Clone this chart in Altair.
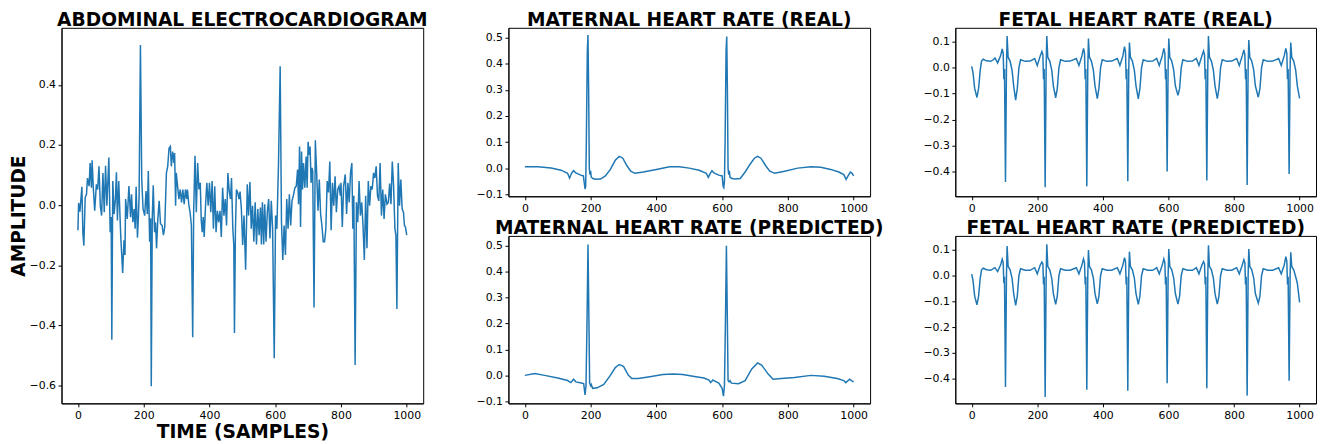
import altair as alt
import pandas as pd

BLUE = "#1f77b4"

# ---------------- Abdominal ECG (sample index, amplitude) ----------------
abd_t = [0, 2, 6, 12, 15, 18, 22, 26, 29, 34, 37, 41, 43, 47, 51, 56, 60, 64, 68, 72,
         76, 80, 84, 88, 94, 98, 101, 103, 106, 110, 114, 117, 120, 124, 130, 136, 140, 143, 145, 150,
         155, 160, 163, 167, 171, 174, 177, 181, 184, 186, 190, 194, 198, 203, 207, 211, 214, 218, 221, 223,
         226, 229, 233, 236, 239, 243, 247, 251, 256, 260, 264, 269, 273, 277, 281, 284, 288, 292, 294, 297,
         299, 303, 307, 311, 315, 319, 323, 327, 331, 333, 337, 341, 345, 349, 352, 356, 360, 364, 368, 372,
         375, 378, 381, 384, 388, 392, 396, 400, 404, 408, 412, 416, 420, 424, 428, 432, 436, 440, 444, 448,
         452, 456, 460, 464, 467, 471, 474, 476, 479, 482, 486, 490, 493, 497, 501, 505, 510, 515, 519, 523,
         527, 531, 535, 539, 543, 547, 551, 555, 558, 561, 565, 568, 572, 576, 580, 584, 588, 592, 597, 601,
         605, 610, 615, 619, 623, 627, 631, 635, 639, 643, 647, 651, 655, 660, 664, 668, 671, 674, 677, 680,
         683, 686, 690, 694, 697, 700, 703, 706, 709, 712, 714, 718, 722, 726, 730, 734, 738, 742, 746, 750,
         754, 758, 762, 766, 770, 774, 778, 782, 786, 790, 794, 798, 800, 804, 808, 813, 817, 821, 825, 829,
         833, 836, 839, 843, 847, 851, 855, 859, 863, 867, 871, 875, 879, 883, 887, 891, 895, 899, 903, 907,
         911, 915, 919, 923, 927, 931, 935, 940, 944, 948, 952, 956, 960, 964, 967, 970, 974, 978, 982, 986,
         990, 993, 996, 1000]
abd_v = [-0.084, 0.007, -0.022, 0.061, -0.092, -0.135, 0.025, 0.036, 0.09, 0.063, 0.14, 0.058, 0.149, 0.052, -0.019, 0.069, 0.052, 0.129, -0.002, -0.035,
         0.107, -0.024, 0.131, -0.002, 0.158, -0.09, -0.04, -0.448, 0.08, -0.03, 0.02, 0.109, -0.051, 0.08, -0.1, -0.226, -0.117, -0.166, 0.02, -0.046,
         0.063, -0.04, 0.036, -0.057, -0.013, -0.079, 0.061, -0.109, -0.035, 0.03, 0.533, 0.085, -0.013, -0.035, 0.047, -0.03, 0.113, -0.122, -0.044, -0.603,
         -0.046, 0.066, -0.09, -0.057, -0.144, -0.046, 0.014, -0.062, -0.068, -0.1, -0.073, 0.107, 0.129, 0.189, 0.195, 0.129, 0.178, 0.14, 0.173, -0.002,
         0.107, 0.063, 0.02, 0.052, 0.009, 0.052, 0.003, 0.052, 0.02, 0.052, 0.003, -0.024, -0.068, -0.44, -0.019, 0.164, -0.024, 0.14, 0.052, 0.074,
         -0.051, -0.09, -0.04, -0.106, -0.002, 0.074, -0.002, 0.074, -0.024, 0.08, -0.079, 0.063, -0.09, -0.019, -0.057, -0.019, -0.106, 0.058, -0.035, 0.02,
         -0.068, 0.107, 0.047, 0.02, 0.09, -0.079, -0.133, -0.426, -0.079, 0.052, 0.041, 0.02, 0.045, -0.013, -0.133, -0.035, -0.215, 0.069, -0.035, 0.077,
         -0.079, -0.002, -0.122, 0.009, -0.131, -0.013, -0.1, -0.008, -0.131, 0.009, -0.131, 0.003, -0.122, -0.022, 0.02, -0.111, 0.014, -0.079, -0.51, -0.035,
         -0.079, 0.14, 0.462, -0.057, -0.183, -0.068, -0.166, 0.02, -0.079, 0.036, -0.068, 0.014, 0.031, 0.058, 0.063, 0.118, 0.003, 0.195, -0.073, 0.178,
         0.052, 0.14, 0.058, 0.162, 0.058, 0.211, 0.167, 0.195, 0.074, 0.124, 0.113, -0.341, 0.216, 0.107, -0.019, 0.085, -0.03, -0.068, -0.122, -0.122,
         -0.079, 0.08, 0.042, 0.145, -0.084, 0.074, -0.002, 0.096, -0.024, 0.052, 0.063, 0.031, 0.074, -0.073, 0.063, 0.102, -0.03, 0.074, 0.009, 0.107,
         0.14, -0.079, 0.031, -0.532, 0.009, -0.057, 0.08, -0.035, 0.009, -0.068, -0.183, 0.031, -0.144, 0.08, -0.002, 0.063, 0.052, 0.107, 0.09, 0.129,
         0.031, 0.014, 0.14, -0.035, 0.052, -0.046, 0.036, 0.003, 0.009, 0.072, 0.003, 0.145, 0.063, -0.079, -0.1, -0.346, 0.14, -0.002, 0.085, -0.013,
         -0.024, -0.068, -0.073, -0.1]

# ---------------- Maternal ECG, real ----------------
mat_real_t = [0, 40, 80, 110, 130, 136, 142, 148, 155, 170, 178, 181, 183, 185, 187, 190, 192, 194, 196, 198,
              200, 202, 207, 215, 230, 245, 260, 275, 287, 298, 310, 322, 335, 360, 400, 440, 470, 500, 530, 552,
              558, 564, 569, 575, 590, 600, 603, 605, 607, 609, 612, 614, 616, 618, 620, 622, 624, 630, 640, 655,
              670, 685, 698, 708, 718, 732, 745, 760, 790, 830, 870, 900, 930, 955, 970, 977, 983, 990, 995, 1000]
mat_real_v = [0.005, 0.005, 0.0, -0.008, -0.02, -0.038, -0.02, -0.01, -0.018, -0.027, -0.03, -0.06, -0.08, -0.07, 0.1, 0.45, 0.51, 0.3, 0.0, -0.025,
              -0.01, -0.035, -0.04, -0.043, -0.042, -0.03, -0.005, 0.03, 0.045, 0.038, 0.01, -0.012, -0.02, -0.015, -0.005, 0.005, 0.005, 0.0, -0.008, -0.02,
              -0.035, -0.02, -0.01, -0.018, -0.027, -0.03, -0.07, -0.075, -0.05, 0.1, 0.45, 0.505, 0.3, 0.0, -0.025, -0.01, -0.035, -0.04, -0.042, -0.04,
              -0.015, 0.015, 0.038, 0.045, 0.038, 0.01, -0.012, -0.02, -0.012, 0.0, 0.005, 0.003, -0.005, -0.015, -0.025, -0.043, -0.03, -0.015, -0.02, -0.03]

# ---------------- Maternal ECG, predicted ----------------
mat_pred_t = [0, 30, 60, 100, 130, 140, 148, 155, 175, 179, 183, 186, 189, 192, 195, 197, 200, 202, 206, 220,
              240, 260, 275, 287, 300, 315, 325, 345, 380, 420, 450, 480, 520, 545, 560, 565, 572, 578, 590, 600,
              604, 607, 610, 613, 616, 618, 621, 624, 628, 650, 670, 690, 708, 720, 740, 755, 780, 820, 870, 910,
              950, 970, 976, 988, 993, 1000]
mat_pred_v = [0.0, 0.007, 0.0, -0.01, -0.02, -0.028, -0.015, -0.025, -0.03, -0.032, -0.075, -0.04, 0.2, 0.505, 0.2, -0.03, -0.04, -0.035, -0.05, -0.048,
              -0.035, 0.0, 0.03, 0.042, 0.035, 0.0, -0.012, -0.012, -0.005, 0.003, 0.005, 0.003, -0.005, -0.01, -0.018, -0.028, -0.018, -0.022, -0.03, -0.05,
              -0.08, -0.04, 0.2, 0.5, 0.2, -0.02, -0.025, -0.02, -0.03, -0.032, -0.02, 0.025, 0.048, 0.04, 0.005, -0.015, -0.012, -0.008, 0.0, -0.003,
              -0.012, -0.02, -0.028, -0.015, -0.02, -0.025]

# ---------------- Fetal ECG (shared sample positions) ----------------
fet_t = [0, 4, 9, 16, 21, 26, 30, 35, 45, 58, 66, 71, 79, 88, 93, 96, 98, 100,
         103, 106, 108, 111, 117, 123, 128, 134, 139, 144, 149, 163, 178, 192, 200, 209, 214, 217, 219, 221,
         224, 227, 229, 232, 238, 244, 249, 256, 261, 266, 271, 285, 300, 319, 327, 336, 341, 344, 346, 348,
         351, 354, 356, 359, 365, 371, 376, 383, 388, 393, 398, 412, 427, 444, 452, 461, 466, 469, 471, 473,
         476, 479, 481, 484, 490, 496, 501, 508, 513, 518, 523, 537, 552, 564, 572, 581, 586, 589, 591, 593,
         596, 599, 601, 604, 610, 616, 621, 629, 634, 639, 644, 658, 673, 685, 693, 702, 707, 710, 712, 714,
         717, 720, 722, 725, 731, 737, 742, 749, 754, 759, 764, 778, 793, 808, 816, 825, 830, 833, 835, 837,
         840, 843, 845, 848, 854, 860, 865, 874, 879, 884, 889, 903, 918, 936, 944, 953, 958, 961, 963, 965,
         968, 971, 973, 976, 982, 988, 993, 1000]
fet_real_v = [0.005, -0.02, -0.08, -0.115, -0.08, -0.01, 0.025, 0.032, 0.026, 0.024, 0.03, 0.037, 0.018, 0.045, 0.072, 0.055, -0.045, -0.005,
              -0.44, 0.0, 0.121, 0.04, 0.025, -0.01, -0.07, -0.125, -0.08, 0.0, 0.03, 0.024, 0.025, 0.035, 0.008, 0.045, 0.062, 0.05, -0.045, -0.005,
              -0.46, 0.0, 0.121, 0.04, 0.025, -0.01, -0.07, -0.116, -0.08, 0.0, 0.03, 0.024, 0.025, 0.035, 0.008, 0.045, 0.074, 0.055, -0.045, -0.005,
              -0.456, 0.0, 0.112, 0.04, 0.025, -0.01, -0.07, -0.119, -0.08, 0.0, 0.03, 0.024, 0.025, 0.035, 0.008, 0.045, 0.081, 0.06, -0.045, -0.005,
              -0.437, 0.0, 0.096, 0.04, 0.025, -0.01, -0.07, -0.12, -0.08, 0.0, 0.03, 0.024, 0.025, 0.035, 0.008, 0.045, 0.074, 0.055, -0.045, -0.005,
              -0.40, 0.0, 0.112, 0.04, 0.025, -0.01, -0.07, -0.107, -0.08, 0.0, 0.03, 0.024, 0.025, 0.035, 0.008, 0.045, 0.064, 0.05, -0.045, -0.005,
              -0.434, 0.0, 0.121, 0.04, 0.025, -0.01, -0.07, -0.119, -0.08, 0.0, 0.03, 0.024, 0.025, 0.035, 0.008, 0.045, 0.068, 0.05, -0.045, -0.005,
              -0.452, 0.0, 0.106, 0.04, 0.025, -0.01, -0.07, -0.114, -0.08, 0.0, 0.03, 0.024, 0.025, 0.035, 0.008, 0.045, 0.074, 0.055, -0.045, -0.005,
              -0.409, 0.0, 0.096, 0.04, 0.025, -0.01, -0.07, -0.118]
fet_pred_v = [0.005, -0.02, -0.08, -0.114, -0.08, -0.01, 0.022, 0.028, 0.022, 0.02, 0.026, 0.03, 0.015, 0.04, 0.063, 0.05, -0.03, -0.005,
              -0.432, 0.0, 0.114, 0.035, 0.022, -0.01, -0.07, -0.116, -0.08, 0.0, 0.026, 0.02, 0.02, 0.03, 0.006, 0.04, 0.052, 0.045, -0.035, -0.005,
              -0.47, 0.0, 0.121, 0.035, 0.022, -0.01, -0.07, -0.112, -0.08, 0.0, 0.026, 0.02, 0.02, 0.03, 0.006, 0.04, 0.064, 0.05, -0.035, -0.005,
              -0.442, 0.0, 0.098, 0.035, 0.022, -0.01, -0.07, -0.11, -0.08, 0.0, 0.026, 0.02, 0.02, 0.03, 0.006, 0.04, 0.069, 0.055, -0.035, -0.005,
              -0.446, 0.0, 0.092, 0.035, 0.022, -0.01, -0.07, -0.112, -0.08, 0.0, 0.026, 0.02, 0.02, 0.03, 0.006, 0.04, 0.064, 0.05, -0.035, -0.005,
              -0.417, 0.0, 0.102, 0.035, 0.022, -0.01, -0.07, -0.111, -0.08, 0.0, 0.026, 0.02, 0.02, 0.03, 0.006, 0.04, 0.054, 0.045, -0.035, -0.005,
              -0.436, 0.0, 0.117, 0.035, 0.022, -0.01, -0.07, -0.111, -0.08, 0.0, 0.026, 0.02, 0.02, 0.03, 0.006, 0.04, 0.061, 0.05, -0.035, -0.005,
              -0.465, 0.0, 0.102, 0.035, 0.022, -0.01, -0.07, -0.107, -0.08, 0.0, 0.026, 0.02, 0.02, 0.03, 0.006, 0.04, 0.073, 0.055, -0.035, -0.005,
              -0.407, 0.0, 0.09, 0.035, 0.022, -0.005, -0.03, -0.104]

x_ticks = [0, 200, 400, 600, 800, 1000]
abd_y_ticks = [-0.6, -0.4, -0.2, 0.0, 0.2, 0.4]
mat_y_ticks = [-0.1, 0.0, 0.1, 0.2, 0.3, 0.4, 0.5]
fet_y_ticks = [-0.4, -0.3, -0.2, -0.1, 0.0, 0.1]

FONT = "DejaVu Sans"
TITLE_SIZE = 18.8


def panel(t, v, title, ydom, yticks, w, h, xtitle=None, ytitle=None, ymin_extent=None):
    df = pd.DataFrame({"t": t, "v": v})
    xkw = dict(values=x_ticks, format="d", title=xtitle) if xtitle else dict(values=x_ticks, format="d", title=None)
    ykw = dict(values=yticks, format=".1f", title=ytitle) if ytitle else dict(values=yticks, format=".1f", title=None)
    if ymin_extent is not None:
        ykw["minExtent"] = ymin_extent
    return alt.Chart(df).mark_line(color=BLUE, strokeWidth=1.5, clip=True).encode(
        x=alt.X("t:Q", scale=alt.Scale(domain=[-50, 1050], nice=False, zero=False), axis=alt.Axis(**xkw)),
        y=alt.Y("v:Q", scale=alt.Scale(domain=ydom, nice=False, zero=False), axis=alt.Axis(**ykw)),
    ).properties(
        width=w, height=h,
        title=alt.Title(title, font=FONT, fontSize=TITLE_SIZE, fontWeight="bold", color="black", anchor="middle", offset=-2),
    )


left = panel(abd_t, abd_v, "ABDOMINAL ELECTROCARDIOGRAM", [-0.66, 0.59], abd_y_ticks, 365, 379,
             xtitle="TIME (SAMPLES)", ytitle="AMPLITUDE")
mid_top = panel(mat_real_t, mat_real_v, "MATERNAL HEART RATE (REAL)", [-0.108, 0.538], mat_y_ticks, 365, 170, ymin_extent=80.5)
mid_bot = panel(mat_pred_t, mat_pred_v, "MATERNAL HEART RATE (PREDICTED)", [-0.108, 0.538], mat_y_ticks, 365, 169, ymin_extent=80.5)
right_top = panel(fet_t, fet_real_v, "FETAL HEART RATE (REAL)", [-0.495, 0.153], fet_y_ticks, 364, 170, ymin_extent=70)
right_bot = panel(fet_t, fet_pred_v, "FETAL HEART RATE (PREDICTED)", [-0.495, 0.153], fet_y_ticks, 364, 169, ymin_extent=70)

mid = alt.vconcat(mid_top, mid_bot, spacing=40, bounds="flush")
right = alt.vconcat(right_top, right_bot, spacing=40, bounds="flush")

chart = alt.hconcat(left, mid, right, spacing=0).properties(
    padding={"left": 0, "top": 0, "right": 0, "bottom": 0}
).configure_axis(
    labelFont=FONT, labelFontSize=11, labelColor="black",
    tickColor="black", domainColor="black", tickSize=3.5,
    grid=False,
    titleFont=FONT, titleFontSize=TITLE_SIZE, titleFontWeight="bold", titleColor="black",
).configure_axisX(
    labelPadding=2.5, titlePadding=2,
).configure_axisY(
    labelPadding=2.5, titlePadding=1,
).configure_view(
    stroke="black", strokeWidth=1,
)

chart.save("out.html", embed_options={"renderer": "svg", "actions": False})
